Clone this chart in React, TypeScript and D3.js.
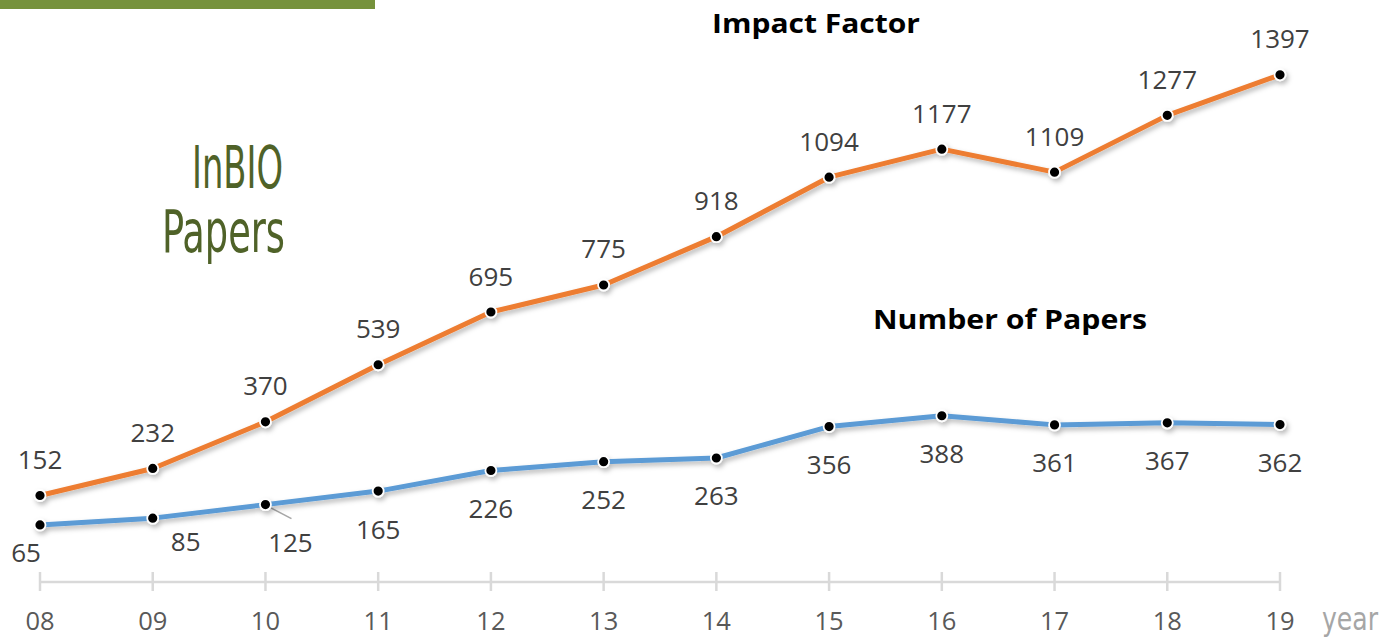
import * as d3 from 'd3';

const years = ['08', '09', '10', '11', '12', '13', '14', '15', '16', '17', '18', '19'];
const impactFactor = [152, 232, 370, 539, 695, 775, 918, 1094, 1177, 1109, 1277, 1397];
const papers = [65, 85, 125, 165, 226, 252, 263, 356, 388, 361, 367, 362];

// hand nudges for the first few paper labels (as placed in the original)
const paperLabelDx = [-14, 33, 25, 0, 0, 0, 0, 0, 0, 0, 0, 0];
const paperLabelDy = [28, 23, 38, 38, 38, 38, 38, 38, 38, 38, 38, 38];

const width = 1386;
const height = 637;
const labelFont = '"Open Sans", "Liberation Sans", sans-serif';
const narrowFont = '"DejaVu Sans Condensed", "DejaVu Sans", sans-serif';

const App = () => {
  const x = d3.scalePoint<string>().domain(years).range([40, 1280]);
  const y = d3.scaleLinear().domain([-104, 1400]).range([582, 73.8]);
  const axisY = y(-104);

  const line = d3.line<number>()
    .x((_, i) => x(years[i]) as number)
    .y(d => y(d));

  return (
    <svg width={width} height={height} style={{ position: 'absolute', left: 0, top: 0 }}>
      <defs>
        <filter id="shadow" x="-5%" y="-20%" width="110%" height="140%">
          <feDropShadow dx="2" dy="3" stdDeviation="2.5" floodColor="#000" floodOpacity="0.28" />
        </filter>
      </defs>
      <rect x={0} y={0} width={375} height={9} fill="#76923c" />

      <text x={283} y={188} textAnchor="end" fontFamily={narrowFont} fontSize={58}
        fill="#4f6228" textLength={91} lengthAdjust="spacingAndGlyphs">InBIO</text>
      <text x={285} y={252} textAnchor="end" fontFamily={narrowFont} fontSize={58}
        fill="#4f6228" textLength={123} lengthAdjust="spacingAndGlyphs">Papers</text>

      <text x={816} y={33} textAnchor="middle" fontFamily={labelFont} fontWeight="bold"
        fontSize={26} fill="#000" textLength={208} lengthAdjust="spacingAndGlyphs">Impact Factor</text>
      <text x={1010} y={329} textAnchor="middle" fontFamily={labelFont} fontWeight="bold"
        fontSize={26} fill="#000" textLength={274} lengthAdjust="spacingAndGlyphs">Number of Papers</text>

      {/* axis */}
      <line x1={x(years[0])} x2={x(years[years.length - 1])} y1={axisY} y2={axisY}
        stroke="#d9d9d9" strokeWidth={2.5} />
      {years.map(yr => (
        <g key={yr}>
          <line x1={x(yr)} x2={x(yr)} y1={axisY - 10} y2={axisY + 9} stroke="#d9d9d9" strokeWidth={2.5} />
          <text x={x(yr)} y={630} textAnchor="middle" fontFamily={labelFont} fontSize={25.5}
            fill="#595959">{yr}</text>
        </g>
      ))}
      <text x={1322} y={630} fontFamily={narrowFont} fontSize={32} fill="#a6a6a6"
        textLength={56} lengthAdjust="spacingAndGlyphs">year</text>

      {/* leader line for 125 */}
      <line x1={(x(years[2]) as number) + 3} y1={y(papers[2]) + 2} x2={(x(years[2]) as number) + 26}
        y2={y(papers[2]) + 14} stroke="#a6a6a6" strokeWidth={1.5} />

      {[{ data: impactFactor, color: '#ed7d31' }, { data: papers, color: '#5b9bd5' }].map(s => (
        <g key={s.color} filter="url(#shadow)">
          <path d={line(s.data) as string} fill="none" stroke={s.color} strokeWidth={5}
            strokeLinejoin="round" strokeLinecap="round" />
          {s.data.map((v, i) => (
            <circle key={i} cx={x(years[i])} cy={y(v)} r={5.5} fill="#000" stroke="#fff" strokeWidth={1.8} />
          ))}
        </g>
      ))}

      {impactFactor.map((v, i) => (
        <text key={'if' + i} x={x(years[i])} y={y(v) - 36 + 9.5} textAnchor="middle"
          fontFamily={labelFont} fontSize={26} fill="#404040">{v}</text>
      ))}
      {papers.map((v, i) => (
        <text key={'p' + i} x={(x(years[i]) as number) + paperLabelDx[i]} y={y(v) + paperLabelDy[i] + 9.5}
          textAnchor="middle" fontFamily={labelFont} fontSize={26} fill="#404040">{v}</text>
      ))}
    </svg>
  );
};

export default App;
